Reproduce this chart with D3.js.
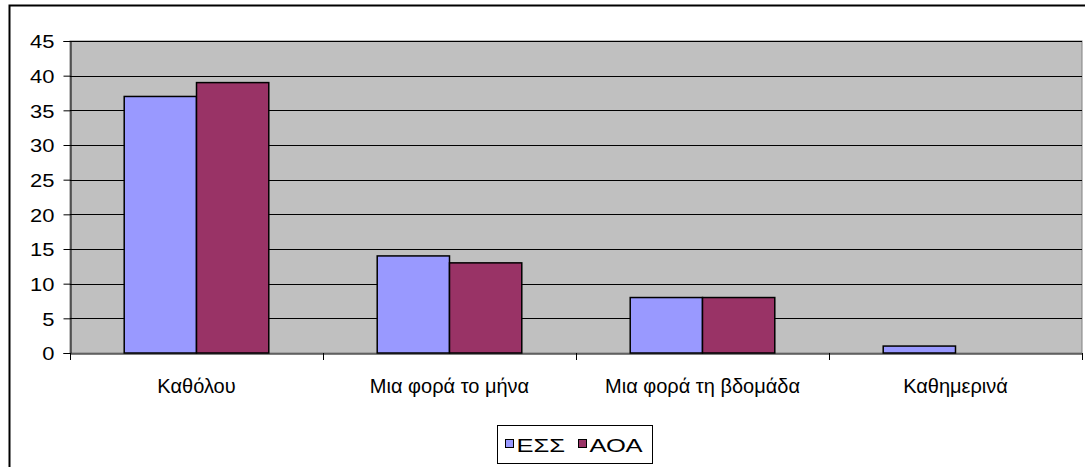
<!DOCTYPE html>
<html>
<head>
<meta charset="utf-8">
<script src="https://cdn.jsdelivr.net/npm/d3@7"></script>
<style>
  html, body { margin: 0; padding: 0; background: #fff; }
  svg { display: block; font-family: "Liberation Sans", Arial, sans-serif; }
</style>
</head>
<body>
<svg id="chart" width="1085" height="467"></svg>
<script>
// Frequency categories and the two groups' percentages
const categories = ["Καθόλου", "Μια φορά το μήνα", "Μια φορά τη βδομάδα", "Καθημερινά"];
const seriesNames = ["ΕΣΣ", "ΑΟΑ"];
const essValues = [37, 14, 8, 1];
const aoaValues = [39, 13, 8, 0];
const yTicks = [0, 5, 10, 15, 20, 25, 30, 35, 40, 45];
const colors = ["#9999FF", "#993366"];

const svg = d3.select("#chart");
const plot = { left: 70, top: 41, right: 1082, bottom: 353 };

// Outer chart frame (extends past the right and bottom edges)
svg.append("rect")
  .attr("x", 9.5).attr("y", 5.5)
  .attr("width", 1100).attr("height", 500)
  .attr("fill", "#fff").attr("stroke", "#000").attr("stroke-width", 2);

const x = d3.scaleBand().domain(categories).range([plot.left, plot.right]);
const xInner = d3.scaleBand().domain(seriesNames)
  .range([0, x.bandwidth()]).paddingOuter(0.75).paddingInner(0);
const y = d3.scaleLinear().domain([0, 45]).range([plot.bottom, plot.top]);

// Plot background
svg.append("rect")
  .attr("x", plot.left).attr("y", plot.top)
  .attr("width", plot.right - plot.left).attr("height", plot.bottom - plot.top)
  .attr("fill", "#C0C0C0").attr("stroke", "#808080").attr("stroke-width", 1);

// Horizontal gridlines
svg.append("g").selectAll("line")
  .data(yTicks.filter(d => d > 0))
  .join("line")
  .attr("x1", plot.left).attr("x2", plot.right)
  .attr("y1", d => Math.round(y(d)) + 0.5).attr("y2", d => Math.round(y(d)) + 0.5)
  .attr("stroke", "#000").attr("stroke-width", 1);

// Bars
const data = categories.map((c, i) => ({ cat: c, values: [essValues[i], aoaValues[i]] }));
const groups = svg.append("g").selectAll("g")
  .data(data).join("g")
  .attr("transform", d => `translate(${x(d.cat)},0)`);
groups.selectAll("rect")
  .data(d => d.values.map((v, j) => ({ name: seriesNames[j], v, j })).filter(e => e.v > 0))
  .join("rect")
  .attr("x", d => xInner(d.name))
  .attr("y", d => y(d.v))
  .attr("width", xInner.bandwidth())
  .attr("height", d => y(0) - y(d.v))
  .attr("fill", d => colors[d.j])
  .attr("stroke", "#000").attr("stroke-width", 1.5);

// Y axis
const yAxis = d3.axisLeft(y).tickValues(yTicks).tickSize(7).tickPadding(0);
const gy = svg.append("g").attr("transform", `translate(${plot.left + 0.5},0)`).call(yAxis);
gy.select(".domain").attr("stroke", "#000");
gy.selectAll(".tick line").attr("stroke", "#000");
gy.selectAll("text")
  .attr("x", 0).attr("dy", "0.38em")
  .attr("font-size", 18).attr("fill", "#000")
  .attr("font-family", "Liberation Sans, Arial, sans-serif")
  .attr("transform", "translate(-16,0) scale(1.22,1)");

// X axis
const xAxis = d3.axisBottom(x).tickSize(0).tickPadding(25);
const gx = svg.append("g").attr("transform", `translate(0,${plot.bottom + 0.5})`).call(xAxis);
gx.select(".domain").attr("stroke", "#000");
gx.selectAll("text").attr("font-size", 20).attr("fill", "#000")
  .attr("font-family", "Liberation Sans, Arial, sans-serif");
// Category boundary ticks
svg.append("g").selectAll("line")
  .data(categories.map(c => x(c)).concat([plot.right]))
  .join("line")
  .attr("x1", d => Math.round(d) + 0.5).attr("x2", d => Math.round(d) + 0.5)
  .attr("y1", plot.bottom).attr("y2", plot.bottom + 7)
  .attr("stroke", "#000");

// Legend
const legend = svg.append("g").attr("transform", "translate(497.5,425.5)");
legend.append("rect").attr("width", 155).attr("height", 38)
  .attr("fill", "#fff").attr("stroke", "#000");
const items = [{ name: seriesNames[0], x: 8, color: colors[0] },
               { name: seriesNames[1], x: 81, color: colors[1] }];
items.forEach(it => {
  legend.append("rect").attr("x", it.x).attr("y", 14).attr("width", 8).attr("height", 8)
    .attr("fill", it.color).attr("stroke", "#000");
  legend.append("text")
    .attr("transform", `translate(${it.x + 11},26) scale(1.42,1)`)
    .attr("font-size", 18).attr("fill", "#000").text(it.name);
});
</script>
</body>
</html>
